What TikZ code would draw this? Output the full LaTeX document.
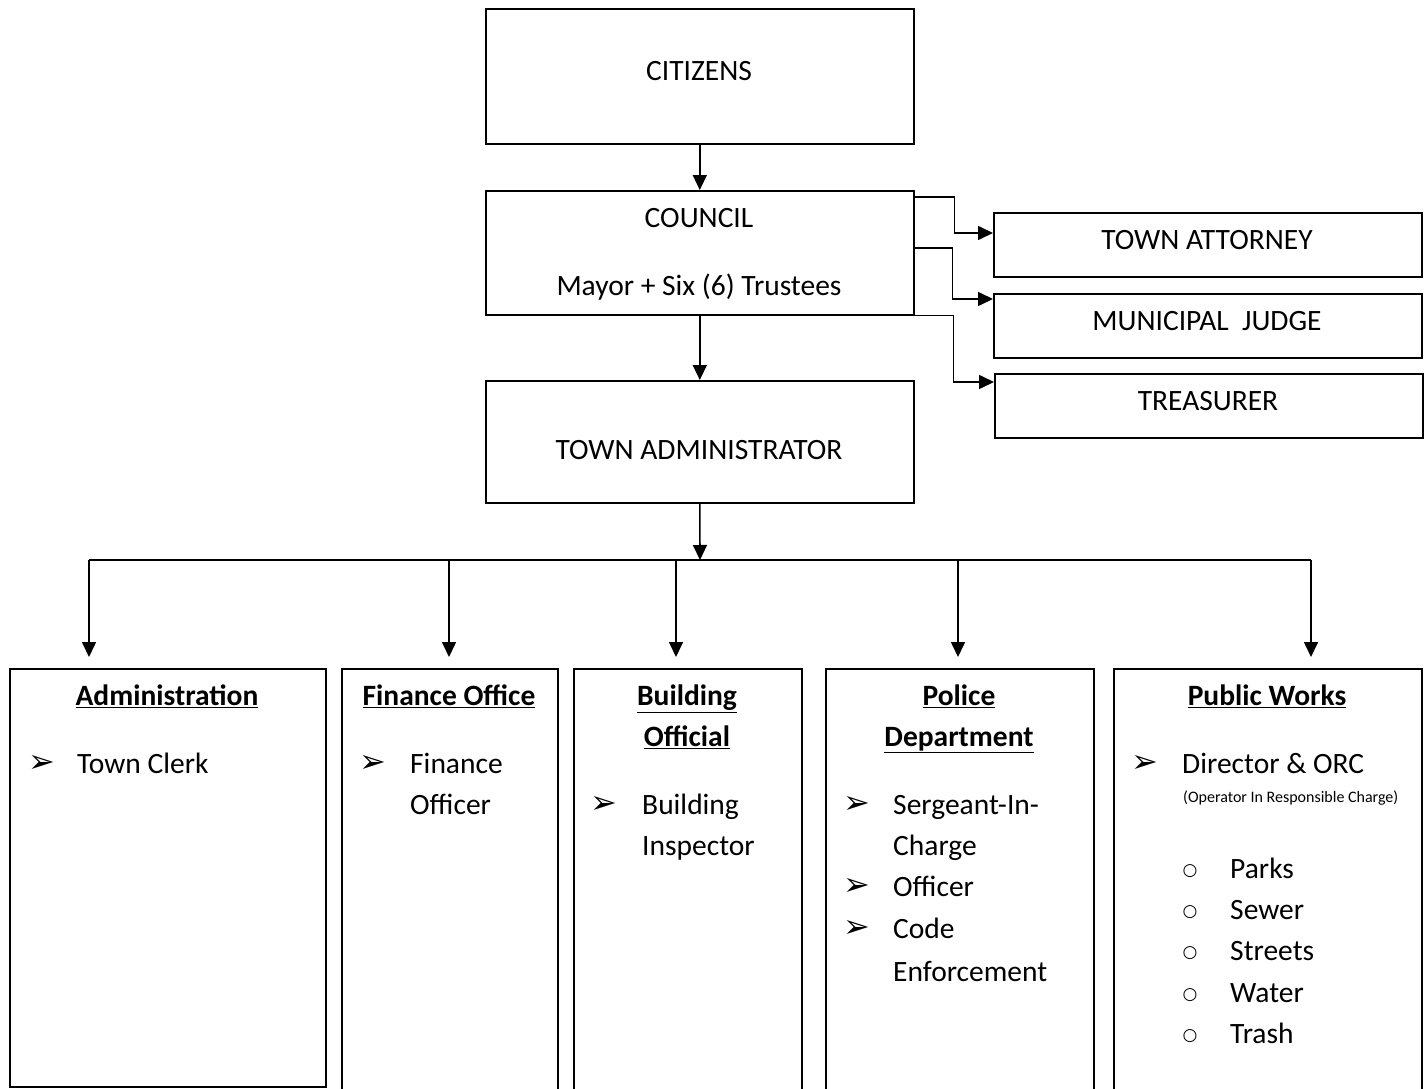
\documentclass[tikz,border=0pt]{standalone}
\usepackage{fontspec}
\setmainfont{Carlito}
\newfontfamily\symfont{DejaVu Sans}
\usetikzlibrary{arrows.meta}
\tikzset{
 box/.style={draw, line width=1.6pt, inner sep=0pt, anchor=north west},
 txt/.style={inner sep=0pt, text height=19pt, text depth=0pt, font=\fontsize{29.5}{35}\selectfont},
 tl/.style={txt, anchor=west},
 hd/.style={inner sep=0pt, text height=19pt, text depth=0pt, font=\fontsize{29.5}{35}\selectfont\bfseries},
 small/.style={inner sep=0pt, anchor=west, text height=10.3pt, text depth=0pt, font=\fontsize{16}{19}\selectfont},
 arr/.style={line width=1.6pt, -{Triangle[length=15pt,width=14pt]}},
 ln/.style={line width=1.6pt},
 bul/.style={inner sep=0pt, font=\symfont\fontsize{32}{36}\selectfont},
 cbul/.style={inner sep=0pt, font=\symfont\fontsize{17}{20}\selectfont},
}
\newcommand{\hu}[1]{\underline{#1}}
\begin{document}
\begin{tikzpicture}[x=1pt,y=-1pt]
\useasboundingbox (0,0) rectangle (1427,1089);
% top boxes
\node[box, minimum width=428pt, minimum height=135pt] (cit) at (485,8) {};
\node[txt] (citT) at (699,71) {CITIZENS};
\node[box, minimum width=428pt, minimum height=124pt] (cou) at (485,190) {};
\node[txt] (couT1) at (699,218) {COUNCIL};
\node[txt] (couT2) at (699,286) {Mayor + Six (6) Trustees};
\node[box, minimum width=428pt, minimum height=122pt] (adm) at (485,380) {};
\node[txt] (admT) at (699,450) {TOWN ADMINISTRATOR};
% right boxes
\node[box, minimum width=428pt, minimum height=64pt] (att) at (993,212) {};
\node[txt] (attT) at (1207,240) {TOWN ATTORNEY};
\node[box, minimum width=428pt, minimum height=64pt] (jud) at (993,293) {};
\node[txt] (judT) at (1207,321) {MUNICIPAL\ \ JUDGE};
\node[box, minimum width=428pt, minimum height=64pt] (tre) at (994,373) {};
\node[txt] (treT) at (1208,401) {TREASURER};
% connectors top
\draw[arr] (cit.south) -- (cou.north);
\draw[arr] (cou.south) -- (adm.north);
\draw[arr] ([yshift=-7pt]cou.north east) -- ++(40pt,0) |- ([yshift=-21pt]att.north west);
\draw[arr] ([yshift=-58pt]cou.north east) -- ++(38pt,0) |- ([yshift=-6pt]jud.north west);
\draw[arr] (cou.south east) -- ++(39pt,0) |- ([yshift=-9pt]tre.north west);
% bus
\coordinate (bus) at (700,560);
\coordinate (busL) at (89,560);
\coordinate (busR) at (1311,560);
\draw[arr] (adm.south) -- (bus);
\draw[ln] (busL) -- (busR);
% bottom boxes
\node[box, minimum width=316pt, minimum height=418pt] (b1) at (9,668) {};
\node[box, minimum width=216pt, minimum height=422pt] (b2) at (341,668) {};
\node[box, minimum width=228pt, minimum height=422pt] (b3) at (573,668) {};
\node[box, minimum width=268pt, minimum height=422pt] (b4) at (825,668) {};
\node[box, minimum width=308pt, minimum height=422pt] (b5) at (1113,668) {};
\coordinate (d1) at (89,657);
\coordinate (d2) at (449,657);
\coordinate (d3) at (676,657);
\coordinate (d4) at (958,657);
\coordinate (d5) at (1311,657);
\foreach \d in {d1,d2,d3,d4,d5} \draw[arr] (\d |- bus) -- (\d);
% box 1
\node[hd] (h1) at (167,696) {\hu{Administration}};
\node[bul] (u11) at (42,764) {➢};
\node[tl] (t11) at (77,764) {Town Clerk};
% box 2
\node[hd] (h2) at (449,696) {\hu{Finance Office}};
\node[bul] (u21) at (373,764) {➢};
\node[tl] (t21) at (410,764) {Finance};
\node[tl] (t22) at (410,805) {Officer};
% box 3
\node[hd] (h3a) at (687,696) {\hu{Building}};
\node[hd] (h3b) at (687,737) {\hu{Official}};
\node[bul] (u31) at (604,805) {➢};
\node[tl] (t31) at (642,805) {Building};
\node[tl] (t32) at (642,846) {Inspector};
% box 4
\node[hd] (h4a) at (959,696) {\hu{Police}};
\node[hd] (h4b) at (959,737) {\hu{Department}};
\node[bul] (u41) at (857,805) {➢};
\node[tl] (t41) at (893,805) {Sergeant-In-};
\node[tl] (t42) at (893,846) {Charge};
\node[bul] (u42) at (857,887) {➢};
\node[tl] (t43) at (893,887) {Officer};
\node[bul] (u43) at (857,929) {➢};
\node[tl] (t44) at (893,929) {Code};
\node[tl] (t45) at (893,972) {Enforcement};
% box 5
\node[hd] (h5) at (1267,696) {\hu{Public Works}};
\node[bul] (u51) at (1145,764) {➢};
\node[tl] (t51) at (1182,764) {Director \& ORC};
\node[small] (t52) at (1183,797) {(Operator In Responsible Charge)};
\foreach \y/\w [count=\i] in {869/Parks,910/Sewer,951/Streets,993/Water,1034/Trash}{
  \node[cbul] (c5\i) at (1190,\y+2) {○};
  \node[tl] (s5\i) at (1230,\y) {\w};
}
\end{tikzpicture}
\end{document}
